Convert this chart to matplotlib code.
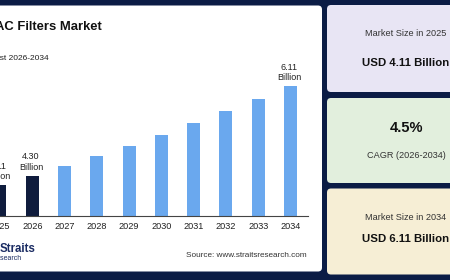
import matplotlib
matplotlib.use("Agg")
import matplotlib.pyplot as plt
from matplotlib.patches import FancyBboxPatch

plt.rcParams['font.family'] = ['Liberation Sans', 'DejaVu Sans']

years = ["2025", "2026", "2027", "2028", "2029", "2030", "2031", "2032", "2033", "2034"]
values = [4.11, 4.30, 4.49, 4.69, 4.90, 5.13, 5.36, 5.60, 5.85, 6.11]
labeled = {0: "4.11\nBillion", 1: "4.30\nBillion", 9: "6.11\nBillion"}
dark_years = {"2025", "2026"}

title = "HVAC Filters Market"
subtitle = "Market Size & Forecast 2026-2034"
card1 = ("Market Size in 2025", "USD 4.11 Billion")
card2 = ("4.5%", "CAGR (2026-2034)")
card3 = ("Market Size in 2034", "USD 6.11 Billion")
source = "Source: www.straitsresearch.com"

NAVY = "#0b1c45"
BAR_DARK = "#0f1c3d"
BAR_LIGHT = "#6aa8ee"

W, H = 450, 280
fig = plt.figure(figsize=(4.5, 2.8), dpi=100)
fig.patch.set_facecolor(NAVY)

bg = fig.add_axes([0, 0, 1, 1])
bg.set_xlim(0, W)
bg.set_ylim(H, 0)
bg.axis('off')

# white panel
bg.add_patch(FancyBboxPatch((-20, 5.5), 342, 266, boxstyle="round,pad=0,rounding_size=4",
                            fc="white", ec="none"))
# cards
bg.add_patch(FancyBboxPatch((327, 5), 170, 87, boxstyle="round,pad=0,rounding_size=4",
                            fc="#e8e5f4", ec="none"))
bg.add_patch(FancyBboxPatch((327, 98), 170, 85, boxstyle="round,pad=0,rounding_size=4",
                            fc="#e2efdd", ec="none"))
bg.add_patch(FancyBboxPatch((327, 188.5), 170, 86, boxstyle="round,pad=0,rounding_size=4",
                            fc="#f6eed5", ec="none"))

bg.text(102, 27, title, ha='right', va='center', fontsize=9.4, fontweight='bold', color='#111111')
bg.text(49, 58, subtitle, ha='right', va='center', fontsize=6, color='#222222')

cx = 406
bg.text(cx, 33.5, card1[0], ha='center', va='center', fontsize=6.6, color='#333333')
bg.text(cx, 63, card1[1], ha='center', va='center', fontsize=8.2, fontweight='bold', color='#111111')
bg.text(cx, 128, card2[0], ha='center', va='center', fontsize=10.5, fontweight='bold', color='#111111')
bg.text(cx, 155, card2[1], ha='center', va='center', fontsize=6.6, color='#333333')
bg.text(cx, 217, card3[0], ha='center', va='center', fontsize=6.6, color='#333333')
bg.text(cx, 239.5, card3[1], ha='center', va='center', fontsize=8.2, fontweight='bold', color='#111111')

bg.text(306.5, 255.5, source, ha='right', va='center', fontsize=5.9, color='#333333')
bg.text(0, 249.5, "Straits", ha='left', va='center', fontsize=8.3, fontweight='bold', color='#1b2c63')
bg.text(22, 258.5, "Research", ha='right', va='center', fontsize=5, color='#1b2c63')

# bar axes (pixel geometry -> data limits)
px0 = 28.6 - 32.7  # center of first category in pixels
step = 32.7
ax_left, ax_right = 0, 308
base_px, top_px = 215.7, 60
scale = 49.35  # pixels per billion
v0 = 3.488
ax = fig.add_axes([ax_left / W, (H - base_px) / H, (ax_right - ax_left) / W, (base_px - top_px) / H])
ax.set_facecolor('none')
ax.set_xlim((ax_left - px0) / step, (ax_right - px0) / step)
ax.set_ylim(v0, v0 + (base_px - top_px) / scale)

xs = list(range(len(years)))
colors = [BAR_DARK if y in dark_years else BAR_LIGHT for y in years]
ax.bar(xs, [v - v0 for v in values], bottom=v0, width=0.40, color=colors, clip_on=False)
for i, txt in labeled.items():
    ax.text(xs[i] - 0.04, values[i] + 0.08, txt, ha='center', va='bottom', fontsize=6.5,
            color='#222222', linespacing=1.2, clip_on=False)

for s in ['top', 'right', 'left']:
    ax.spines[s].set_visible(False)
ax.spines['bottom'].set_color('#444444')
ax.spines['bottom'].set_linewidth(0.8)
ax.set_yticks([])
ax.set_xticks(xs)
ax.set_xticklabels(years, fontsize=6.6, color='#222222')
ax.tick_params(axis='x', length=0, pad=4.5)
for lab in ax.get_xticklabels():
    lab.set_clip_on(False)

fig.savefig("out.png", dpi=100, facecolor=fig.get_facecolor())
